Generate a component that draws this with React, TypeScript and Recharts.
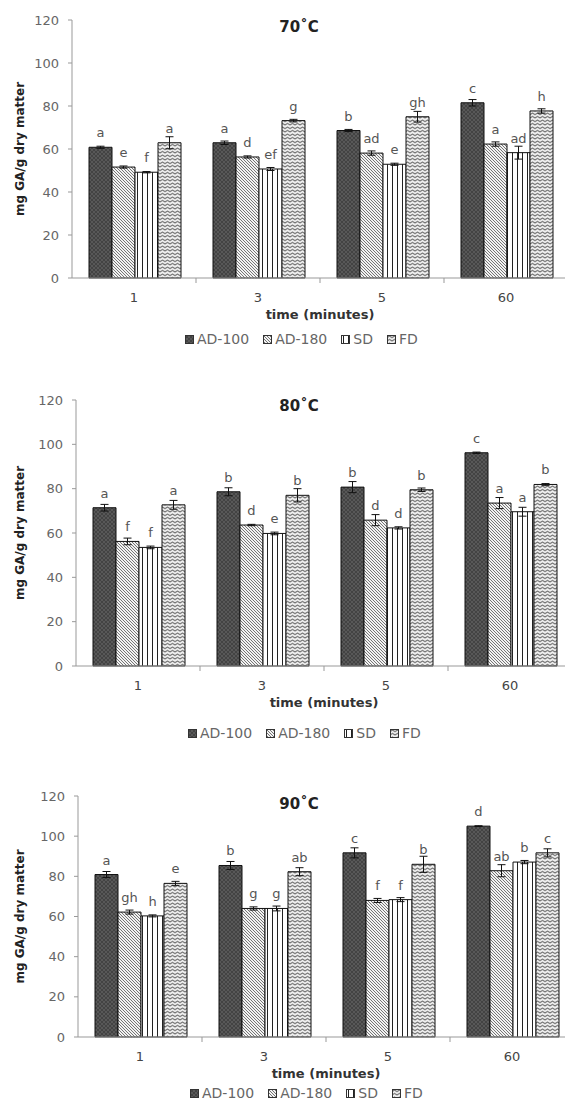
// Gallic acid content of dried samples at 70, 80 and 90 °C: grouped bars with SD error bars
import React from 'react';
import { BarChart, Bar, XAxis, YAxis, ErrorBar, LabelList, Label } from 'recharts';

const times = ['1', '3', '5', '60'];
const seriesNames = ['AD-100', 'AD-180', 'SD', 'FD'];
const yTicks = [0, 20, 40, 60, 80, 100, 120];

// rows: AD-100, AD-180, SD, FD; columns follow `times`
const values70 = [
  [60.8, 62.9, 68.6, 81.5],
  [51.6, 56.3, 58.1, 62.3],
  [49.2, 50.7, 52.9, 58.3],
  [62.9, 73.2, 75.0, 77.7],
];
const errors70 = [
  [0.5, 0.8, 0.5, 1.5],
  [0.5, 0.5, 1.0, 1.0],
  [0.3, 0.7, 0.5, 3.0],
  [2.8, 0.6, 2.5, 1.0],
];
const letters70 = [
  ['a', 'a', 'b', 'c'],
  ['e', 'd', 'ad', 'a'],
  ['f', 'ef', 'e', 'ad'],
  ['a', 'g', 'gh', 'h'],
];

const values80 = [
  [71.4, 78.6, 80.7, 96.2],
  [56.2, 63.6, 65.8, 73.5],
  [53.5, 59.8, 62.3, 69.6],
  [72.7, 77.0, 79.5, 81.9],
];
const errors80 = [
  [1.5, 1.8, 2.5, 0.3],
  [1.5, 0.3, 2.5, 2.5],
  [0.6, 0.6, 0.5, 2.0],
  [2.0, 3.0, 0.8, 0.4],
];
const letters80 = [
  ['a', 'b', 'b', 'c'],
  ['f', 'd', 'd', 'a'],
  ['f', 'e', 'd', 'a'],
  ['a', 'b', 'b', 'b'],
];

const values90 = [
  [80.9, 85.4, 91.7, 105.0],
  [62.2, 64.0, 68.0, 82.8],
  [60.3, 64.0, 68.4, 87.1],
  [76.5, 82.3, 86.0, 91.7],
];
const errors90 = [
  [1.5, 2.0, 2.5, 0.2],
  [1.0, 0.8, 1.0, 3.0],
  [0.5, 1.2, 1.0, 0.8],
  [1.0, 2.0, 4.0, 2.0],
];
const letters90 = [
  ['a', 'b', 'c', 'd'],
  ['gh', 'g', 'f', 'ab'],
  ['h', 'g', 'f', 'b'],
  ['e', 'ab', 'b', 'c'],
];

const FONT = '"DejaVu Sans", Arial, sans-serif';
const fills = ['url(#pAD100)', 'url(#pAD180)', 'url(#pSD)', 'url(#pFD)'];
const BAND = 124;
const PLOT_W = BAND * times.length;

function buildRows(values: number[][], errors: number[][], letters: string[][]) {
  return times.map((t, i) => {
    const row: any = { time: t };
    seriesNames.forEach((_, s) => {
      row['v' + s] = values[s][i];
      row['e' + s] = errors[s][i];
      row['l' + s] = letters[s][i];
    });
    return row;
  });
}

function Patterns() {
  return (
    <svg width={0} height={0} style={{ position: 'absolute' }}>
      <defs>
        <pattern id="pAD100" width="4" height="4" patternUnits="userSpaceOnUse">
          <rect width="4" height="4" fill="#585858" />
          <path d="M0,0 L4,4 M4,0 L0,4" stroke="#3e3e3e" strokeWidth="0.8" />
        </pattern>
        <pattern id="pAD180" width="3" height="3" patternUnits="userSpaceOnUse">
          <rect width="3" height="3" fill="#f2f2f2" />
          <path d="M-1,-1 L4,4 M-1,2 L1,4 M2,-1 L4,1" stroke="#555" strokeWidth="0.8" />
        </pattern>
        <pattern id="pSD" width="5" height="5" patternUnits="userSpaceOnUse">
          <rect width="5" height="5" fill="#fff" />
          <line x1="2.5" y1="0" x2="2.5" y2="5" stroke="#222" strokeWidth="1" />
        </pattern>
        <pattern id="pFD" width="5" height="3.5" patternUnits="userSpaceOnUse">
          <rect width="5" height="3.5" fill="#f2f2f2" />
          <path d="M0,2.6 L2.5,0.9 L5,2.6" fill="none" stroke="#555" strokeWidth="0.9" />
        </pattern>
      </defs>
    </svg>
  );
}

interface PanelProps {
  title: string;
  values: number[][];
  errors: number[][];
  letters: string[][];
  plotTop: number;
  plotBottom: number;
  plotLeft: number;
  titleY: number;
  legendY: number;
  legendX: number;
}

function Panel({ title, values, errors, letters, plotTop, plotBottom, plotLeft, titleY, legendY, legendX }: PanelProps) {
  const rows = buildRows(values, errors, letters);
  const plotH = plotBottom - plotTop;
  const xAxisH = 44;
  const width = plotLeft + PLOT_W + 4;
  const height = plotH + 20 + xAxisH;

  const tick = (p: any) => {
    const { x, y, payload, index } = p;
    return (
      <g>
        {index > 0 && <line x1={x - BAND / 2} x2={x - BAND / 2} y1={y} y2={y + 5} stroke="#999" />}
        <text x={x} y={y + 24} textAnchor="middle" fontSize={13} fill="#444" fontFamily={FONT}>
          {payload.value}
        </text>
      </g>
    );
  };

  return (
    <>
      <div style={{ position: 'absolute', left: 0, top: plotTop - 20 }}>
        <BarChart
          width={width}
          height={height}
          data={rows}
          margin={{ top: 20, right: 4, left: 0, bottom: 0 }}
          barCategoryGap={17}
          barGap={0}
        >
          <XAxis
            dataKey="time"
            height={xAxisH}
            tickLine={false}
            tickSize={0}
            tickMargin={0}
            tick={tick}
            axisLine={{ stroke: '#999' }}
            interval={0}
          >
            <Label
              content={() => (
                <text
                  x={plotLeft + PLOT_W / 2}
                  y={20 + plotH + 41}
                  textAnchor="middle"
                  fontSize={13}
                  fontWeight="bold"
                  fill="#333"
                  fontFamily={FONT}
                >
                  time (minutes)
                </text>
              )}
            />
          </XAxis>
          <YAxis
            width={plotLeft}
            domain={[0, 120]}
            ticks={yTicks}
            tickSize={4}
            tickMargin={9}
            tickLine={{ stroke: '#999' }}
            axisLine={{ stroke: '#999' }}
            tick={{ fontSize: 13, fill: '#666', fontFamily: FONT }}
          >
            <Label
              content={() => {
                const cy = 20 + plotH / 2;
                return (
                  <text
                    x={20}
                    y={cy}
                    transform={`rotate(-90 20 ${cy})`}
                    textAnchor="middle"
                    dominantBaseline="central"
                    fontSize={12}
                    fontWeight="bold"
                    fill="#222"
                    fontFamily={FONT}
                  >
                    mg GA/g dry matter
                  </text>
                );
              }}
            />
          </YAxis>
          {seriesNames.map((name, s) => (
            <Bar
              key={name}
              dataKey={'v' + s}
              name={name}
              fill={fills[s]}
              stroke="#111"
              strokeWidth={1}
              isAnimationActive={false}
            >
              <ErrorBar dataKey={'e' + s} width={4} stroke="#111" strokeWidth={1} direction="y" />
              <LabelList
                dataKey={'l' + s}
                content={(p: any) => (
                  <text
                    x={Number(p.x) + Number(p.width) / 2}
                    y={Number(p.y) - 10}
                    textAnchor="middle"
                    fontSize={13}
                    fill="#555"
                    fontFamily={FONT}
                  >
                    {p.value}
                  </text>
                )}
              />
            </Bar>
          ))}
        </BarChart>
      </div>
      <div
        style={{
          position: 'absolute',
          left: 0,
          width: 598,
          top: titleY - 10,
          lineHeight: '20px',
          textAlign: 'center',
          fontFamily: FONT,
          fontWeight: 'bold',
          fontSize: 15,
          color: '#222',
        }}
      >
        {title}
      </div>
      <div
        style={{
          position: 'absolute',
          left: legendX,
          top: legendY - 9,
          height: 18,
          display: 'flex',
          alignItems: 'center',
          gap: 14,
          fontFamily: FONT,
          fontSize: 14,
          color: '#666',
          whiteSpace: 'nowrap',
        }}
      >
        {seriesNames.map((name, s) => (
          <div key={name} style={{ display: 'flex', alignItems: 'center' }}>
            <svg width={9} height={9} style={{ marginRight: 3 }}>
              <rect x={0.5} y={0.5} width={8} height={8} fill={fills[s]} stroke="#333" />
            </svg>
            <span>{name}</span>
          </div>
        ))}
      </div>
    </>
  );
}

export default function App() {
  return (
    <div
      style={{
        position: 'absolute',
        left: 0,
        top: 0,
        width: 565,
        height: 1102,
        overflow: 'hidden',
        background: '#fff',
      }}
    >
      <Patterns />
      <Panel
        title="70˚C"
        values={values70}
        errors={errors70}
        letters={letters70}
        plotTop={20}
        plotBottom={278}
        plotLeft={72}
        titleY={27}
        legendY={339}
        legendX={185}
      />
      <Panel
        title="80˚C"
        values={values80}
        errors={errors80}
        letters={letters80}
        plotTop={400}
        plotBottom={666}
        plotLeft={76}
        titleY={406}
        legendY={733}
        legendX={188}
      />
      <Panel
        title="90˚C"
        values={values90}
        errors={errors90}
        letters={letters90}
        plotTop={796}
        plotBottom={1037}
        plotLeft={78}
        titleY={804}
        legendY={1093}
        legendX={190}
      />
    </div>
  );
}
